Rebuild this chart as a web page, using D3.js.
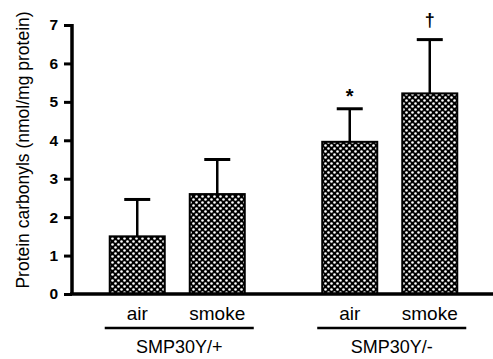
<!DOCTYPE html>
<html>
<head>
<meta charset="utf-8">
<script src="https://cdn.jsdelivr.net/npm/d3@7"></script>
<style>
  body { margin: 0; background: #fff; }
  svg { display: block; font-family: Arial, "Liberation Sans", sans-serif; }
</style>
</head>
<body>
<svg id="chart" width="493" height="359"></svg>
<script>
// data
const conditions = ["air", "smoke"];
const genotypes = ["SMP30Y/+", "SMP30Y/-"];
const means = [1.5, 2.6, 3.96, 5.22];
const errors = [0.96, 0.9, 0.86, 1.4];
const marks = ["", "", "*", "\u2020"];
const yTicks = [0, 1, 2, 3, 4, 5, 6, 7];

const bars = means.map((m, i) => ({
  g: genotypes[Math.floor(i / 2)], c: conditions[i % 2], m: m, e: errors[i], mark: marks[i]
}));

const svg = d3.select("#chart");

const y = d3.scaleLinear().domain([0, 7]).range([294, 25]);
const x0 = d3.scaleBand().domain(genotypes).range([71, 496]);
const x1 = d3.scaleBand().domain(conditions).range([0, x0.bandwidth()])
    .paddingInner(0.3125).paddingOuter(0.484);
const bx = d => x0(d.g) + x1(d.c);
const cx = d => bx(d) + x1.bandwidth() / 2;

// dotted fill
const pat = svg.append("defs").append("pattern")
    .attr("id", "dots").attr("patternUnits", "userSpaceOnUse")
    .attr("width", 6).attr("height", 6);
pat.append("rect").attr("width", 6).attr("height", 6).attr("fill", "#000");
pat.selectAll("circle").data([[1.5, 1.5], [4.5, 4.5]]).enter().append("circle")
    .attr("cx", d => d[0]).attr("cy", d => d[1]).attr("r", 1.3).attr("fill", "#fff");

// error bars
const eb = svg.append("g").attr("stroke", "#000");
bars.forEach(d => {
  eb.append("line").attr("x1", cx(d)).attr("x2", cx(d)).attr("y1", y(d.m)).attr("y2", y(d.m + d.e))
      .attr("stroke-width", 2.5);
  eb.append("line").attr("x1", cx(d) - 13).attr("x2", cx(d) + 13)
      .attr("y1", y(d.m + d.e)).attr("y2", y(d.m + d.e)).attr("stroke-width", 3);
});

// bars
svg.selectAll("rect.bar").data(bars).enter().append("rect")
    .attr("class", "bar")
    .attr("x", bx)
    .attr("width", x1.bandwidth())
    .attr("y", d => y(d.m))
    .attr("height", d => y(0) - y(d.m))
    .attr("fill", "url(#dots)")
    .attr("stroke", "#000").attr("stroke-width", 2);

// significance marks
svg.selectAll("text.mark").data(bars).enter().append("text")
    .attr("class", "mark")
    .attr("x", cx)
    .attr("y", d => y(d.m + d.e) - (d.mark === "*" ? 6 : 14))
    .attr("text-anchor", "middle")
    .attr("font-size", d => d.mark === "*" ? 20 : 18)
    .attr("font-weight", "bold")
    .text(d => d.mark);

// y axis
const yAxis = svg.append("g").attr("transform", "translate(72,0)")
    .call(d3.axisLeft(y).tickValues(yTicks).tickSize(8).tickPadding(6).tickFormat(d3.format("d")));
yAxis.select(".domain").attr("stroke-width", 3.5).attr("d", "M0," + (y(7) - 1) + "V" + (y(0) + 1));
yAxis.selectAll(".tick line").attr("stroke-width", 3);
yAxis.selectAll(".tick text").attr("font-size", 15.5).attr("font-weight", "bold")
    .attr("font-family", "Arial, Liberation Sans, sans-serif").attr("fill", "#000");

// x baseline
svg.append("line").attr("x1", 70).attr("x2", 493).attr("y1", y(0)).attr("y2", y(0))
    .attr("stroke", "#000").attr("stroke-width", 3.5);

// y label
svg.append("text")
    .attr("transform", "translate(29,150) rotate(-90)")
    .attr("text-anchor", "middle").attr("font-size", 17.5)
    .text("Protein carbonyls (nmol/mg protein)");

// condition labels
svg.selectAll("text.cond").data(bars).enter().append("text")
    .attr("class", "cond")
    .attr("x", cx)
    .attr("y", 320)
    .attr("text-anchor", "middle").attr("font-size", 19)
    .text(d => d.c);

// group underlines + names
genotypes.forEach(g => {
  const a = x0(g) + x1("air") - 5, b = x0(g) + x1("smoke") + x1.bandwidth() + 9;
  svg.append("line").attr("x1", a).attr("x2", b).attr("y1", 328).attr("y2", 328)
      .attr("stroke", "#000").attr("stroke-width", 2.5);
  svg.append("text").attr("x", (a + b) / 2).attr("y", 353)
      .attr("text-anchor", "middle").attr("font-size", 18).text(g);
});
</script>
</body>
</html>
